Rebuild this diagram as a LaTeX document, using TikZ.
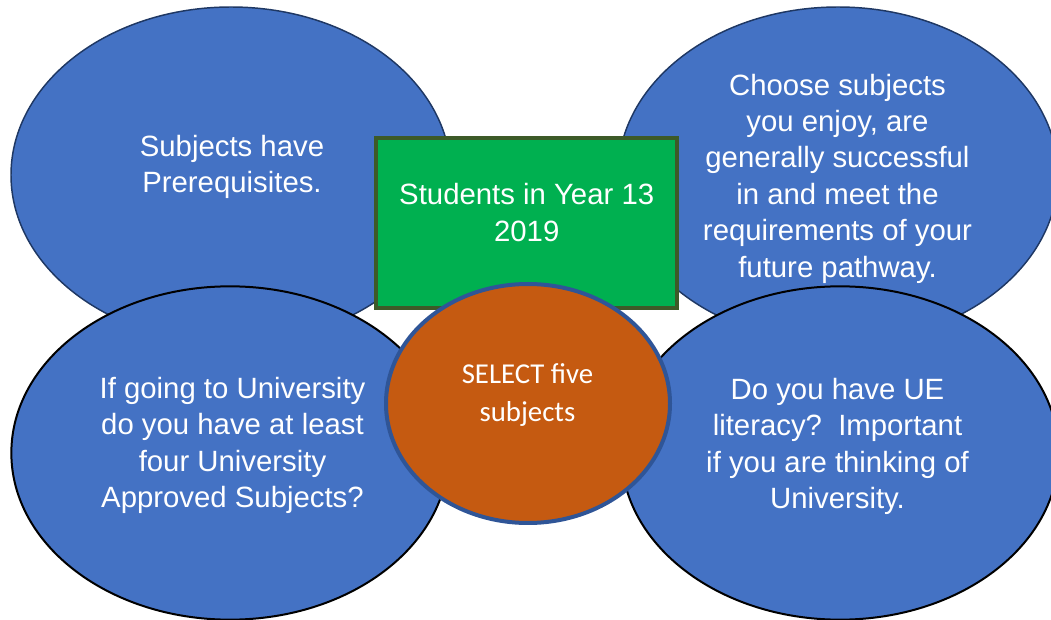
\documentclass[tikz,border=0pt]{standalone}
\usepackage{fontspec}
\setmainfont{Liberation Sans}
\newfontfamily\calibrifont{Carlito}
\usetikzlibrary{shapes.geometric}

\definecolor{ovalblue}{RGB}{68,114,196}
\definecolor{navyline}{RGB}{31,56,100}
\definecolor{boxgreen}{RGB}{0,176,80}
\definecolor{boxline}{RGB}{61,90,40}
\definecolor{centreorange}{RGB}{197,90,17}
\definecolor{centreline}{RGB}{47,85,151}

\tikzset{every picture/.style={line width=0.75pt}}
\tikzset{
  bubble/.style={ellipse, fill=ovalblue, inner sep=0pt, minimum width=330pt, minimum height=252pt},
  bubbletop/.style={bubble, draw=navyline, line width=1.1pt},
  bubblelow/.style={bubble, draw=black, line width=1.5pt, minimum width=328pt, minimum height=250pt},
  bubbletext/.style={text=white, align=center, font=\fontsize{22}{27.3}\selectfont},
}

\begin{document}
\begin{tikzpicture}[x=0.75pt,y=0.75pt,yscale=-1,xscale=1]
	\useasboundingbox (0,0) rectangle (1051,620);

	%Shape: Ellipse top left
	\node [bubbletop] (prereq) at (231,175) {};
	%Shape: Ellipse top right
	\node [bubbletop] (enjoy) at (838,175) {};
	%Shape: Ellipse bottom left
	\node [bubblelow] (approved) at (230,453) {};
	%Shape: Ellipse bottom right
	\node [bubblelow] (literacy) at (840,453) {};

	%Shape: Rectangle
	\node [draw=boxline, fill=boxgreen, line width=3pt, inner sep=0pt, minimum width=225.75pt, minimum height=127.5pt] (year) at (526.5,223) {};
	%Shape: Ellipse centre
	\node [ellipse, draw=centreline, fill=centreorange, line width=3pt, inner sep=0pt, minimum width=213pt, minimum height=179.25pt] (select) at (528,403.5) {};

	% Text Node
	\node [bubbletext] (prereqtext) at (232,167) {Subjects have\\Prerequisites.};
	% Text Node
	\node [bubbletext] (enjoytext) at (837.5,178.5) {Choose subjects\\you enjoy, are\\generally successful\\in and meet the\\requirements of your\\future pathway.};
	% Text Node
	\node [bubbletext] (approvedtext) at (232.5,445.5) {If going to University\\do you have at least\\four University\\Approved Subjects?};
	% Text Node
	\node [bubbletext] (literacytext) at (837.5,446.5) {Do you have UE\\literacy?\ \ Important\\if you are thinking of\\University.};
	% Text Node
	\node [bubbletext] (yeartext) at (526.7,212.5) {Students in Year 13\\2019};
	% Text Node
	\node [text=white, align=center, font=\calibrifont\fontsize{21.6}{28.5}\selectfont] (selecttext) at (527.5,395.5) {SELECT five\\subjects};

\end{tikzpicture}
\end{document}
